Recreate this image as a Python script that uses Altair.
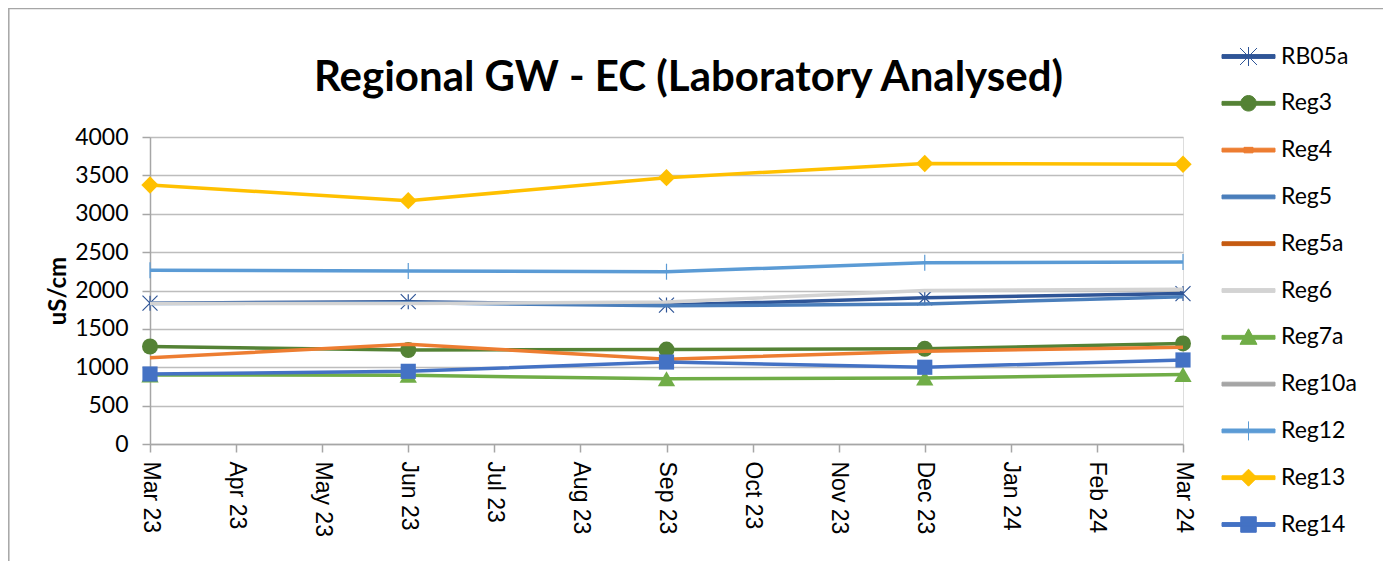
import altair as alt
import pandas as pd

# ---------------- data ----------------
months = ["Mar 23", "Apr 23", "May 23", "Jun 23", "Jul 23", "Aug 23", "Sep 23",
          "Oct 23", "Nov 23", "Dec 23", "Jan 24", "Feb 24", "Mar 24"]
sample_months = ["Mar 23", "Jun 23", "Sep 23", "Dec 23", "Mar 24"]
y_ticks = [0, 500, 1000, 1500, 2000, 2500, 3000, 3500, 4000]

series_names = ["RB05a", "Reg3", "Reg4", "Reg5", "Reg5a", "Reg6", "Reg7a",
                "Reg10a", "Reg12", "Reg13", "Reg14"]

RB05a = [1835, 1855, 1810, 1905, 1960]
Reg3 = [1270, 1225, 1230, 1240, 1310]
Reg4 = [1125, 1300, 1105, 1210, 1260]
Reg5 = [1830, 1840, 1800, 1825, 1920]
Reg5a = [None, None, None, None, None]
Reg6 = [1830, 1830, 1850, 2000, 2015]
Reg7a = [900, 895, 850, 860, 905]
Reg10a = [None, None, None, None, None]
Reg12 = [2265, 2255, 2245, 2360, 2370]
Reg13 = [3375, 3170, 3470, 3655, 3645]
Reg14 = [912, 947, 1068, 1000, 1095]

values_by_series = {"RB05a": RB05a, "Reg3": Reg3, "Reg4": Reg4, "Reg5": Reg5,
                    "Reg5a": Reg5a, "Reg6": Reg6, "Reg7a": Reg7a, "Reg10a": Reg10a,
                    "Reg12": Reg12, "Reg13": Reg13, "Reg14": Reg14}

title_text = "Regional GW - EC (Laboratory Analysed)"
y_title = "uS/cm"

# ---------------- styles ----------------
colors = {"RB05a": "#2F5597", "Reg3": "#548235", "Reg4": "#ED7D31", "Reg5": "#4A7EBB",
          "Reg5a": "#C55A11", "Reg6": "#D3D3D3", "Reg7a": "#70AD47", "Reg10a": "#A5A5A5",
          "Reg12": "#5B9BD5", "Reg13": "#FFC000", "Reg14": "#4472C4"}

# plot markers (shape, size, filled, strokeWidth)
markers = {
    "RB05a": ("M-1,-1L1,1M-1,1L1,-1M0,-1V1", 225, False, 1.2),
    "Reg3": ("circle", 256, True, 0),
    "Reg7a": ("triangle-up", 300, True, 0),
    "Reg12": ("M0,-1V1", 256, False, 1.2),
    "Reg13": ("diamond", 300, True, 0),
    "Reg14": ("square", 230, True, 0),
}

# legend symbols: thick line drawn as a filled bar plus a marker (unit = 5 px)
bar = "M-5.3,-0.38H5.3V0.38H-5.3Z"
legend_paths = {
    "RB05a": bar + "M-1.7,-1.7L1.7,1.7M-1.7,1.7L1.7,-1.7M0,-1.9V1.9",
    "Reg3": bar + "M-1.55,0A1.55,1.55 0 1,1 1.55,0A1.55,1.55 0 1,1 -1.55,0Z",
    "Reg4": bar + "M-0.9,-0.55H0.9V0.55H-0.9Z",
    "Reg5": bar,
    "Reg5a": bar,
    "Reg6": bar,
    "Reg7a": bar + "M0,-1.7L1.7,1.4L-1.7,1.4Z",
    "Reg10a": bar,
    "Reg12": bar + "M0,-1.9V1.9",
    "Reg13": bar + "M0,-1.7L1.7,0L0,1.7L-1.7,0Z",
    "Reg14": bar + "M-1.55,-1.55H1.55V1.55H-1.55Z",
}

rows = []
for s in series_names:
    for m, v in zip(sample_months, values_by_series[s]):
        rows.append({"series": s, "month": m, "value": v})
df = pd.DataFrame(rows)

W, H = 1033, 307
GRID = "#BDBDBD"
AXIS = "#A6A6A6"

x_enc = alt.X(
    "month:O",
    scale=alt.Scale(type="point", domain=months, padding=0),
    axis=alt.Axis(title=None, labelAngle=90, labelAlign="left", labelBaseline="middle",
                  labelFont="Liberation Sans", labelFontSize=23, labelColor="#000000",
                  labelPadding=9, tickSize=8, tickColor=AXIS, tickWidth=1.5,
                  domainColor=AXIS, domainWidth=1.5, grid=False),
)
y_enc = alt.Y(
    "value:Q",
    scale=alt.Scale(domain=[0, 4000], nice=False),
    axis=alt.Axis(values=y_ticks, format="d", title=y_title, titleFont="Lato",
                  titleFontSize=24, titleFontWeight="bold", titleColor="#000000",
                  titleX=-92, titleY=153.5, titleAngle=270, titleAlign="center",
                  titleBaseline="middle", labelFont="Lato", labelFontSize=23,
                  labelColor="#000000", labelPadding=14, tickSize=8, tickColor=AXIS,
                  tickWidth=1.5, domainColor=AXIS, domainWidth=1.5, gridColor=GRID,
                  gridWidth=1.5),
)

base = alt.Chart(df)

legend = alt.Legend(title=None, orient="none", legendX=1087, legendY=-92,
                    labelFont="Lato", labelFontSize=23, labelColor="#000000",
                    symbolSize=100, symbolStrokeWidth=1, symbolOpacity=1,
                    labelOffset=21, rowPadding=22.8, padding=0)

legend_layer = base.transform_filter("false").mark_point(filled=True, opacity=1).encode(
    x=x_enc, y=y_enc,
    fill=alt.Fill("series:N", scale=alt.Scale(domain=series_names,
                                              range=[colors[s] for s in series_names]),
                  legend=legend),
    stroke=alt.Stroke("series:N", scale=alt.Scale(domain=series_names,
                                                  range=[colors[s] for s in series_names]),
                      legend=legend),
    shape=alt.Shape("series:N", scale=alt.Scale(domain=series_names,
                                                range=[legend_paths[s] for s in series_names]),
                    legend=legend),
)

frame = alt.Chart(alt.Data(values=[{}])).mark_rect(
    fill="transparent", stroke="#A6A6A6", strokeWidth=1.5
).encode(x=alt.value(-141.2), x2=alt.value(1234), y=alt.value(-128.5), y2=alt.value(430))

layers = [legend_layer, frame]
for s in series_names:
    sub = base.transform_filter(alt.datum.series == s)
    layers.append(sub.mark_line(strokeWidth=3.5, color=colors[s]).encode(x=x_enc, y=y_enc))
    if s in markers:
        shape, size, filled, sw = markers[s]
        layers.append(sub.mark_point(shape=shape, size=size, filled=filled, opacity=1,
                                     color=colors[s], strokeWidth=sw if not filled else 0)
                      .encode(x=x_enc, y=y_enc))

chart = alt.layer(*layers).properties(
    width=W, height=H,
    padding={"left": 142, "top": 129, "right": 200, "bottom": 117},
    autosize=alt.AutoSizeParams(type="none"),
    title=alt.TitleParams(title_text, font="Lato", fontSize=42, fontWeight="bold",
                          color="#000000", anchor="middle", frame="group",
                          baseline="alphabetic", offset=-125, dx=22),
).configure_view(stroke=None).configure(background="white")

chart.save("out.html", embed_options={"renderer": "svg", "actions": False})
